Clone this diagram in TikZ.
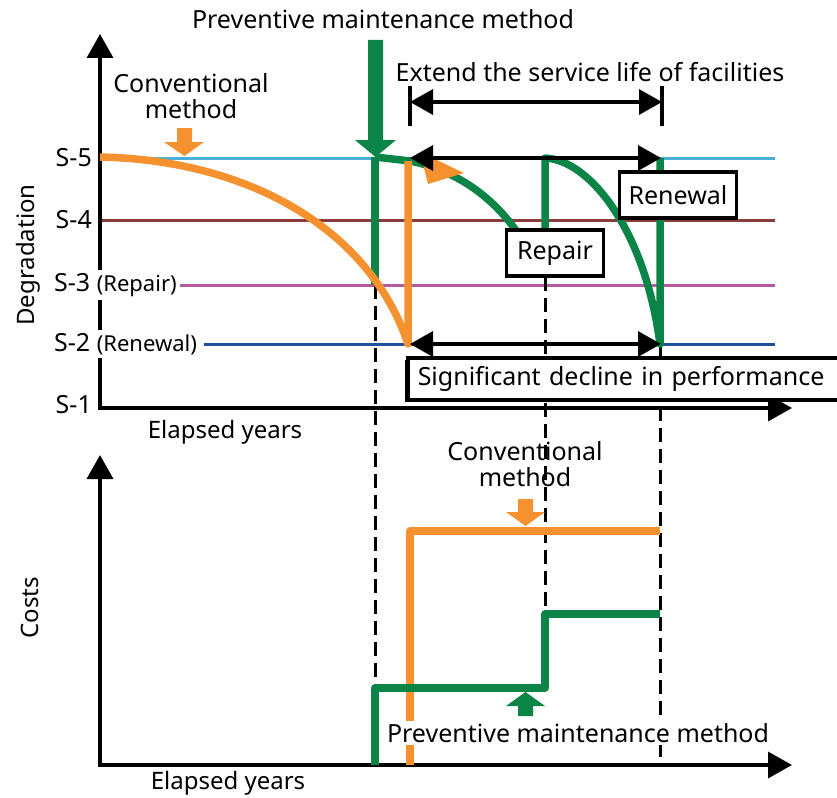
\documentclass[tikz,border=0pt]{standalone}
\usepackage{fontspec}
\setmainfont{Noto Sans}
\usepackage{xcolor}
\usetikzlibrary{positioning}
\usetikzlibrary{arrows.meta}
\usetikzlibrary{shadows}
\definecolor{conv-orange}{HTML}{F5922F}
\definecolor{prev-green}{HTML}{0B8547}
\definecolor{lvl-cyan}{HTML}{4AAED8}
\definecolor{lvl-brown}{HTML}{8A3B3B}
\definecolor{lvl-purple}{HTML}{B35AA3}
\definecolor{lvl-blue}{HTML}{22509E}

\begin{document}
\begin{tikzpicture}[x=1pt, y=-1pt,
      type-axis/.style={line width=3.5pt, -{Triangle[length=24pt, width=26pt]}},
      type-level/.style={line width=3pt},
      type-conv/.style={draw=conv-orange, line width=7.5pt, line join=round},
      type-prev/.style={draw=prev-green, line width=7.5pt, line join=round},
      type-guide/.style={line width=3pt, dash pattern=on 14pt off 7pt},
      type-span/.style={line width=3.5pt, {Triangle[length=23pt, width=25pt]}-{Triangle[length=23pt, width=25pt]}},
      type-box/.style={rectangle, draw, line width=3.5pt, fill=white, inner sep=3pt, font=\fontsize{25}{27}\selectfont},
      type-text/.style={inner sep=0pt, align=center, font=\fontsize{25}{26}\selectfont},
      type-level-label/.style={inner xsep=1pt, inner ysep=3pt, fill=white, font=\fontsize{25}{26}\selectfont}
    ]
      \useasboundingbox (0,0) rectangle (837,797);

      % degradation levels
      \draw[type-level, lvl-cyan] (100,158) -- (775,158);
      \draw[type-level, lvl-brown] (100,220) -- (775,220);
      \draw[type-level, lvl-purple] (180,285) -- (775,285);
      \draw[type-level, lvl-blue] (204,344) -- (775,344);

      % guides
      \draw[type-guide] (375,285) -- (375,765);
      \draw[type-guide] (545,277) -- (545,614);
      \draw[type-guide] (660,344) -- (660,765);

      % axes
      \draw[type-axis] (100,410) -- (100,34);
      \draw[type-axis] (98,408) -- (792,408);
      \node[type-text, rotate=90, font=\fontsize{24}{26}\selectfont] (ydeg) at (28,255) {Degradation};
      \node[type-text, font=\fontsize{24}{26}\selectfont] (xtop) at (225,432) {Elapsed years};
      \draw[type-axis] (100,767) -- (100,455);
      \draw[type-axis] (98,765) -- (792,765);
      \node[type-text, rotate=90, font=\fontsize{24}{26}\selectfont] (ycost) at (30,608) {Costs};
      \node[type-text, font=\fontsize{24}{26}\selectfont] (xbot) at (228,783) {Elapsed years};

      \node[type-text, anchor=east] (s5) at (92,158) {S-5};
      \node[type-text, anchor=east] (s4) at (92,220) {S-4};
      \node[type-level-label, anchor=west] (s3) at (53,285) {S-3 \fontsize{22}{24}\selectfont(Repair)};
      \node[type-level-label, anchor=west] (s2) at (53,344) {S-2 \fontsize{22}{24}\selectfont(Renewal)};
      \node[type-text, anchor=east] (s1) at (92,405) {S-1};

      % preventive maintenance (top)
      \fill[prev-green] (368,40) -- (383,40) -- (383,140) -- (396,140) -- (375.5,157) -- (355,140) -- (368,140) -- cycle;
      \draw[type-prev] (375,157) -- (375,285);
      \draw[type-prev] (375,157) -- (410,161) .. controls (455,170) and (492,196) .. (517,232);
      \draw[type-prev] (545,240) -- (545,158) .. controls (590,160) and (645,230) .. (660,344) -- (660,158);
      \node[type-text] (pm-top) at (383,19) {Preventive maintenance method};

      % conventional (top)
      \draw[type-conv] (100,157) .. controls (250,160) and (370,230) .. (408,344) -- (408,161);
      \fill[conv-orange] (420,152) -- (464,173) -- (428,184) -- cycle;
      \fill[conv-orange] (177,128) -- (192,128) -- (192,142) -- (204,142) -- (184.5,156) -- (164,142) -- (177,142) -- cycle;
      \node[type-text] (conv-top) at (191,96) {Conventional\\method};

      % spans
      \draw[line width=3.5pt] (410,86) -- (410,126);
      \draw[line width=3.5pt] (662,86) -- (662,126);
      \draw[type-span] (410,102) -- (662,102);
      \node[type-text] (extend) at (590,72) {Extend the service life of facilities};
      \draw[type-span] (410,158) -- (661,158);
      \draw[type-span] (410,344) -- (661,344);

      \node[type-box, minimum width=97pt, minimum height=46pt] (repair) at (555,253) {Repair};
      \node[type-box, minimum width=117pt, minimum height=46pt] (renewal) at (678,195) {Renewal};
      \node[type-box, anchor=north west, minimum width=440pt, minimum height=42pt, text width=420pt,
            drop shadow={shadow xshift=-2.5pt, shadow yshift=-2.5pt, fill=black, opacity=1}] (decline) at (406,356) {Significant decline in performance};

      % costs
      \draw[type-conv] (410,765) -- (410,531) -- (660,531);
      \draw[type-prev] (375,765) -- (375,688) -- (545,688) -- (545,614) -- (660,614);
      \fill[conv-orange] (518,499) -- (533,499) -- (533,512) -- (545,512) -- (525.5,526) -- (506,512) -- (518,512) -- cycle;
      \fill[prev-green] (518,716) -- (533,716) -- (533,706) -- (545,706) -- (525.5,692) -- (506,706) -- (518,706) -- cycle;
      \node[type-text] (conv-bot) at (525,464) {Conventional\\method};
      \node[type-text, fill=white, inner ysep=2pt] (pm-bot) at (578,733) {Preventive maintenance method};
    \end{tikzpicture}
\end{document}
